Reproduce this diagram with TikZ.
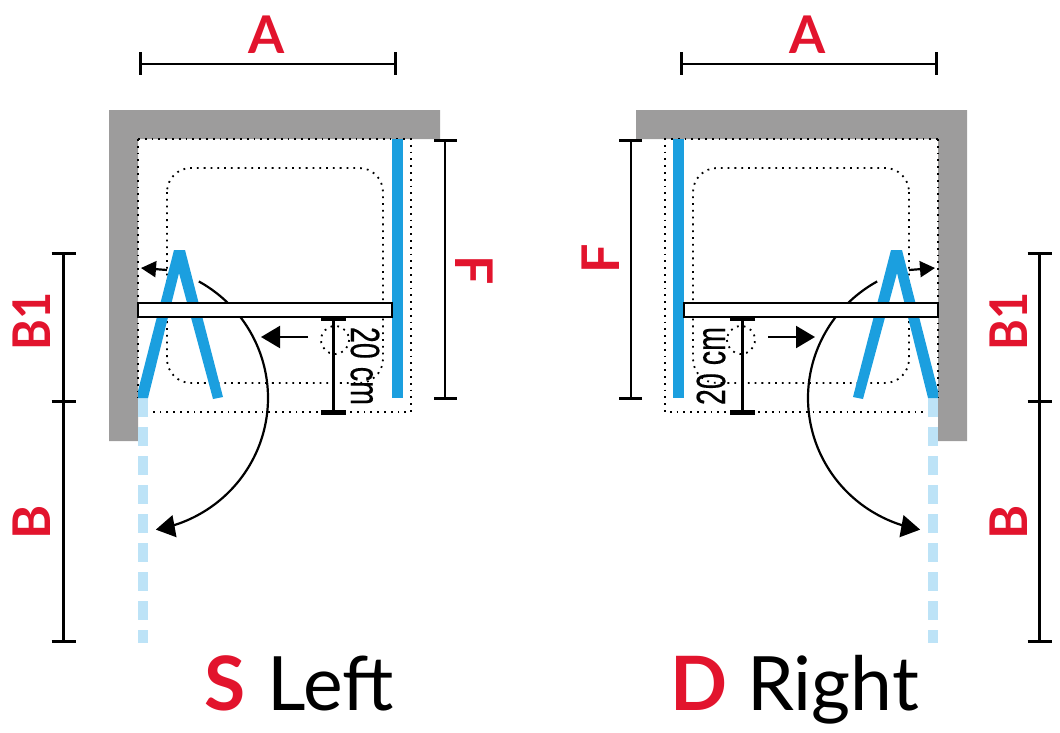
\documentclass[tikz,border=0pt]{standalone}
\usepackage{fontspec}
\setmainfont{Lato}
\newfontfamily\arialish[FakeBold=0.4]{Liberation Sans}
\usetikzlibrary{arrows.meta}
\definecolor{wallgray}{HTML}{9D9C9C}
\definecolor{glassblue}{HTML}{1B9FDF}
\definecolor{paleblue}{HTML}{BDE3F7}
\definecolor{markred}{HTML}{E2142D}
\tikzset{
  wall/.style={fill=wallgray,draw=none},
  dots/.style={line width=1.8pt,dash pattern=on 1.8pt off 5pt,black},
  glass/.style={fill=glassblue,draw=none},
  ghost/.style={draw=paleblue,line width=10pt,dash pattern=on 19pt off 10pt},
  bar/.style={fill=white,draw=black,line width=2pt},
  dimline/.style={draw=black,line width=2.2pt},
  dimcap/.style={draw=black,line width=3pt},
  tinycap/.style={draw=black,line width=4.5pt},
  bigtip/.style={-{Triangle[length=19pt,width=22pt]}},
  smalltip/.style={-{Triangle[length=15pt,width=16pt]}},
  swing/.style={draw=black,line width=2.2pt},
  dimlabel/.style={text=markred,font=\bfseries\fontsize{52}{52}\selectfont,inner sep=0pt},
  title/.style={font=\fontsize{75}{75}\selectfont,inner sep=0pt,anchor=base},
  cmlabel/.style={font=\arialish\fontsize{41}{41}\selectfont,inner sep=0pt}
}
\newcommand{\narrowB}[1]{\scalebox{.9}[1]{#1}}
\newcommand{\plan}{%
  \fill[wall] (109,110) -- (440,110) -- (440,139) -- (138,139) -- (138,441) -- (109,441) -- cycle;
  \draw[dots] (138,139) -- (411,139) -- (411,412) -- (148,412);
  \draw[dots] (138,139) -- (138,398);
  \draw[dots,rounded corners=24pt] (167,168) rectangle (383,383);
  \draw[dots] (335,340) circle[radius=14];
  \draw[ghost] (143,398) -- (143,643);
  \fill[glass] (392,139) rectangle (403,398);
  \draw[swing,bigtip] plot[domain=-64:84,samples=70,smooth]
     ({142+(126+0.0009*\x*\x)*cos(\x)},{398+(126+0.0009*\x*\x)*sin(\x)});
  \fill[glass] (174,250) -- (185,250) -- (223,397) -- (213,399) -- (179,273) -- (148,398) -- (138,398) -- (138,391) -- cycle;
  \draw[swing,smalltip] (167,270) -- (141,268);
  \draw[swing,bigtip] (308,337) -- (261,337);
  \draw[bar] (138,303) rectangle (392,317);
  \draw[dimline] (333.5,318) -- (333.5,412);
  \draw[tinycap] (321,318.5) -- (346,318.5);
  \draw[tinycap] (321,412.5) -- (346,412.5);
  \draw[dimline] (140,64) -- (395,64);
  \draw[dimcap] (140,52) -- (140,75);
  \draw[dimcap] (395,52) -- (395,75);
  \draw[dimline] (445,140) -- (445,398);
  \draw[dimcap] (434,140) -- (457,140);
  \draw[dimcap] (434,398) -- (457,398);
}
\newcommand{\sidedims}[1]{%
  \draw[dimline] (#1,253) -- (#1,641);
  \draw[dimcap] (#1-12,253) -- (#1+12,253);
  \draw[dimcap] (#1-12,401) -- (#1+12,401);
  \draw[dimcap] (#1-12,641) -- (#1+12,641);
}
\begin{document}
\begin{tikzpicture}[x=1pt,y=-1pt]
\useasboundingbox (0,0) rectangle (1060,732);
\plan
\sidedims{63.5}
\begin{scope}[xshift=1076pt,xscale=-1]
\plan
\end{scope}
\sidedims{1039.5}
\node[dimlabel] (aL) at (267,35) {A};
\node[dimlabel] (aR) at (808,35) {A};
\node[dimlabel,rotate=-90] (fL) at (474.5,270) {F};
\node[dimlabel,rotate=90] (fR) at (601,258.5) {F};
\node[dimlabel,rotate=90] (b1L) at (31.5,321.5) {\narrowB{B1}};
\node[dimlabel,rotate=90] (bL) at (31.5,522.5) {B};
\node[dimlabel,rotate=90] (b1R) at (1008.5,321.5) {\narrowB{B1}};
\node[dimlabel,rotate=90] (bR) at (1008.5,522.5) {B};
\node[cmlabel,rotate=-90] (cmL) at (365,366) {\scalebox{.70}[1]{20 cm}};
\node[cmlabel,rotate=90] (cmR) at (711,366) {\scalebox{.70}[1]{20 cm}};
\node[title,text=markred,anchor=base west] (sL) at (204,710) {\bfseries S};
\node[title,anchor=base west] (tL) at (267,710) {Left};
\node[title,text=markred,anchor=base west] (dR) at (670,710) {\bfseries D};
\node[title,anchor=base west] (tR) at (747,710) {Right};
\end{tikzpicture}
\end{document}
